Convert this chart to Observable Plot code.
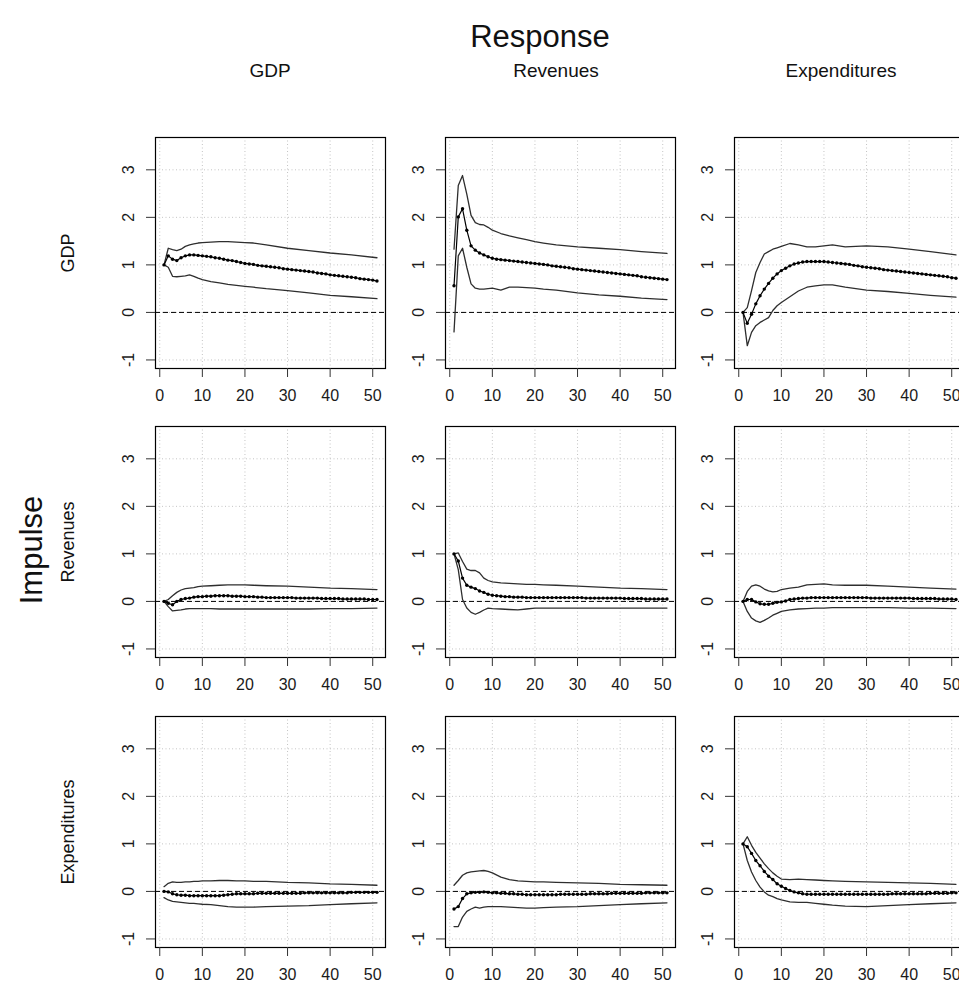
<!DOCTYPE html>
<html>
<head>
<meta charset="utf-8">
<script src="https://cdn.jsdelivr.net/npm/d3@7"></script>
<script src="https://cdn.jsdelivr.net/npm/@observablehq/plot@0.6"></script>
<style>
  html, body { margin: 0; padding: 0; background: #fff; }
  body { width: 959px; height: 983px; overflow: hidden; position: relative; font-family: "Liberation Sans", Arial, sans-serif; color: #111; }
  .lbl { position: absolute; white-space: nowrap; transform: translate(-50%, -50%); line-height: 1; }
  .rot { transform: translate(-50%, -50%) rotate(-90deg); }
  .panel { position: absolute; overflow: visible; }
  .panel svg { max-width: none !important; display: block; }
  .panel svg text { font-size: 16px !important; font-family: "Liberation Sans", Arial, sans-serif !important; fill: #1a1a1a; }
</style>
</head>
<body>
<div id="root"></div>
<script>
// ---- data ----
const names = ["GDP", "Revenues", "Expenditures"];
const xTicks = [0, 10, 20, 30, 40, 50];
const yTicks = [-1, 0, 1, 2, 3];
const h = [1,2,3,4,5,6,7,8,9,10,11,12,13,14,15,16,17,18,19,20,21,22,23,24,25,26,27,28,29,30,31,32,33,34,35,36,37,38,39,40,41,42,43,44,45,46,47,48,49,50,51];
const hb = [1,2,3,4,5,6,7,8,9,10,12,14,16,18,20,22,25,30,35,40,45,51];

// impulse GDP
const m11 = [1.00,1.19,1.12,1.09,1.15,1.19,1.21,1.21,1.20,1.19,1.18,1.17,1.15,1.14,1.12,1.10,1.09,1.07,1.05,1.03,1.02,1.01,0.99,0.98,0.97,0.96,0.95,0.94,0.92,0.91,0.90,0.89,0.88,0.87,0.86,0.85,0.83,0.82,0.81,0.79,0.78,0.77,0.76,0.75,0.74,0.73,0.71,0.70,0.69,0.68,0.66];
const u11 = [1.00,1.35,1.32,1.30,1.33,1.39,1.42,1.44,1.46,1.47,1.48,1.49,1.49,1.48,1.47,1.46,1.42,1.35,1.30,1.25,1.21,1.15];
const l11 = [1.00,0.95,0.76,0.75,0.76,0.77,0.79,0.76,0.72,0.69,0.65,0.62,0.59,0.57,0.55,0.53,0.50,0.46,0.41,0.36,0.33,0.29];

const m12 = [0.56,2.01,2.18,1.73,1.40,1.31,1.25,1.21,1.17,1.14,1.12,1.11,1.10,1.09,1.08,1.07,1.06,1.05,1.04,1.03,1.02,1.01,1.00,0.98,0.97,0.96,0.95,0.94,0.92,0.91,0.90,0.89,0.88,0.87,0.86,0.85,0.84,0.83,0.82,0.81,0.80,0.79,0.78,0.77,0.75,0.74,0.73,0.72,0.71,0.70,0.69];
const u12 = [1.33,2.67,2.88,2.49,2.04,1.89,1.85,1.84,1.79,1.73,1.66,1.61,1.57,1.53,1.49,1.46,1.42,1.38,1.35,1.32,1.28,1.24];
const l12 = [-0.41,1.19,1.35,0.95,0.60,0.51,0.49,0.49,0.50,0.51,0.47,0.53,0.53,0.52,0.51,0.49,0.47,0.41,0.37,0.34,0.30,0.27];

const m13 = [0.00,-0.23,-0.04,0.18,0.35,0.49,0.61,0.72,0.81,0.88,0.93,0.98,1.02,1.04,1.06,1.07,1.07,1.07,1.07,1.07,1.06,1.05,1.04,1.03,1.02,1.01,0.99,0.98,0.96,0.95,0.94,0.93,0.92,0.90,0.89,0.88,0.87,0.86,0.85,0.84,0.83,0.82,0.81,0.80,0.79,0.78,0.77,0.76,0.75,0.73,0.72];
const u13 = [0.00,0.10,0.46,0.84,1.05,1.23,1.28,1.33,1.36,1.39,1.45,1.42,1.38,1.38,1.40,1.42,1.38,1.40,1.38,1.33,1.28,1.21];
const l13 = [0.00,-0.70,-0.42,-0.28,-0.21,-0.16,-0.11,0.04,0.14,0.21,0.33,0.45,0.53,0.56,0.58,0.58,0.53,0.47,0.44,0.40,0.36,0.32];

// impulse Revenues
const m21 = [0.00,-0.04,-0.07,0.00,0.04,0.06,0.07,0.09,0.10,0.10,0.11,0.11,0.12,0.12,0.12,0.12,0.11,0.11,0.11,0.10,0.10,0.10,0.09,0.09,0.08,0.08,0.08,0.08,0.08,0.08,0.08,0.07,0.07,0.07,0.07,0.07,0.07,0.06,0.06,0.06,0.06,0.06,0.05,0.05,0.05,0.05,0.05,0.05,0.04,0.04,0.04];
const u21 = [0.00,0.04,0.12,0.19,0.24,0.27,0.28,0.29,0.31,0.32,0.33,0.34,0.35,0.35,0.35,0.34,0.33,0.32,0.30,0.28,0.27,0.25];
const l21 = [0.00,-0.11,-0.20,-0.19,-0.18,-0.16,-0.15,-0.15,-0.15,-0.15,-0.15,-0.16,-0.16,-0.16,-0.16,-0.16,-0.16,-0.16,-0.16,-0.15,-0.15,-0.14];

const m22 = [1.00,0.85,0.49,0.34,0.30,0.27,0.22,0.19,0.15,0.13,0.12,0.11,0.10,0.10,0.09,0.09,0.09,0.08,0.08,0.08,0.08,0.08,0.08,0.08,0.08,0.08,0.08,0.08,0.08,0.08,0.08,0.07,0.07,0.07,0.07,0.07,0.07,0.07,0.07,0.07,0.06,0.06,0.06,0.06,0.06,0.05,0.05,0.05,0.05,0.05,0.05];
const u22 = [1.00,1.02,0.84,0.68,0.65,0.65,0.60,0.49,0.44,0.41,0.39,0.38,0.37,0.36,0.36,0.35,0.34,0.32,0.30,0.28,0.27,0.25];
const l22 = [1.00,0.67,0.04,-0.14,-0.23,-0.27,-0.23,-0.18,-0.14,-0.15,-0.16,-0.17,-0.18,-0.16,-0.14,-0.14,-0.14,-0.14,-0.14,-0.14,-0.14,-0.14];

const m23 = [0.00,0.04,0.04,-0.01,-0.05,-0.06,-0.06,-0.04,-0.02,-0.01,0.01,0.04,0.05,0.06,0.07,0.07,0.08,0.08,0.08,0.08,0.08,0.08,0.08,0.08,0.08,0.08,0.08,0.08,0.08,0.08,0.07,0.07,0.07,0.07,0.07,0.07,0.07,0.07,0.07,0.07,0.06,0.06,0.06,0.06,0.06,0.06,0.05,0.05,0.05,0.05,0.04];
const u23 = [0.00,0.21,0.32,0.35,0.32,0.26,0.22,0.20,0.21,0.25,0.28,0.30,0.35,0.36,0.37,0.35,0.34,0.34,0.32,0.30,0.28,0.26];
const l23 = [0.00,-0.21,-0.35,-0.41,-0.44,-0.40,-0.35,-0.29,-0.25,-0.21,-0.18,-0.16,-0.15,-0.14,-0.14,-0.13,-0.13,-0.13,-0.13,-0.14,-0.14,-0.15];

// impulse Expenditures
const m31 = [0.00,-0.01,-0.05,-0.07,-0.08,-0.08,-0.09,-0.09,-0.09,-0.09,-0.09,-0.09,-0.09,-0.09,-0.08,-0.07,-0.06,-0.05,-0.05,-0.05,-0.05,-0.05,-0.04,-0.04,-0.04,-0.04,-0.04,-0.04,-0.04,-0.04,-0.04,-0.04,-0.04,-0.03,-0.03,-0.03,-0.03,-0.03,-0.03,-0.03,-0.03,-0.03,-0.03,-0.03,-0.02,-0.02,-0.02,-0.02,-0.02,-0.02,-0.02];
const u31 = [0.10,0.17,0.20,0.19,0.19,0.20,0.20,0.21,0.21,0.22,0.22,0.23,0.23,0.22,0.22,0.21,0.21,0.19,0.18,0.16,0.15,0.13];
const l31 = [-0.13,-0.18,-0.21,-0.22,-0.23,-0.24,-0.25,-0.25,-0.26,-0.27,-0.28,-0.30,-0.32,-0.33,-0.33,-0.33,-0.32,-0.31,-0.30,-0.28,-0.26,-0.24];

const m32 = [-0.37,-0.32,-0.15,-0.05,-0.03,-0.02,-0.02,-0.01,-0.02,-0.03,-0.03,-0.04,-0.04,-0.05,-0.05,-0.06,-0.06,-0.07,-0.07,-0.07,-0.07,-0.07,-0.07,-0.07,-0.07,-0.06,-0.06,-0.06,-0.06,-0.06,-0.06,-0.06,-0.05,-0.05,-0.05,-0.05,-0.05,-0.04,-0.04,-0.04,-0.04,-0.04,-0.04,-0.04,-0.04,-0.03,-0.03,-0.03,-0.03,-0.03,-0.03];
const u32 = [0.13,0.23,0.34,0.39,0.41,0.42,0.43,0.44,0.42,0.39,0.30,0.25,0.22,0.21,0.20,0.20,0.19,0.18,0.17,0.15,0.14,0.13];
const l32 = [-0.74,-0.74,-0.54,-0.42,-0.37,-0.33,-0.35,-0.33,-0.32,-0.32,-0.32,-0.33,-0.34,-0.35,-0.35,-0.34,-0.33,-0.32,-0.30,-0.28,-0.26,-0.24];

const m33 = [1.00,0.94,0.80,0.65,0.54,0.42,0.32,0.25,0.16,0.11,0.06,0.02,-0.01,-0.03,-0.05,-0.06,-0.06,-0.06,-0.06,-0.06,-0.06,-0.06,-0.06,-0.06,-0.06,-0.06,-0.06,-0.06,-0.06,-0.06,-0.06,-0.06,-0.06,-0.06,-0.06,-0.05,-0.05,-0.05,-0.05,-0.05,-0.05,-0.05,-0.05,-0.05,-0.04,-0.04,-0.04,-0.04,-0.04,-0.03,-0.03];
const u33 = [1.00,1.15,0.97,0.82,0.70,0.58,0.48,0.39,0.32,0.26,0.25,0.26,0.25,0.24,0.23,0.22,0.21,0.20,0.19,0.18,0.17,0.15];
const l33 = [1.00,0.65,0.41,0.23,0.09,-0.01,-0.08,-0.11,-0.15,-0.18,-0.22,-0.23,-0.23,-0.25,-0.27,-0.29,-0.31,-0.32,-0.30,-0.28,-0.26,-0.24];

const mids = [[m11, m12, m13], [m21, m22, m23], [m31, m32, m33]];
const ups  = [[u11, u12, u13], [u21, u22, u23], [u31, u32, u33]];
const los  = [[l11, l12, l13], [l21, l22, l23], [l31, l32, l33]];

// ---- layout ----
const FONT = '"Liberation Sans", Arial, sans-serif';
const PW = 230, PH = 231;
const ML = 45, MR = 5, MT = 5, MB = 40;
const frameLeft = [155, 445, 734];
const frameTop = [137, 426, 716];

const root = document.getElementById("root");

function addLabel(text, cx, cy, size, rotate) {
  const d = document.createElement("div");
  d.className = "lbl" + (rotate ? " rot" : "");
  d.textContent = text;
  d.style.left = cx + "px";
  d.style.top = cy + "px";
  d.style.fontSize = size + "px";
  root.appendChild(d);
}

function panel(mid, up, lo) {
  const md = h.map((x, i) => ({x, y: mid[i]}));
  const ud = hb.map((x, i) => ({x, y: up[i]}));
  const ld = hb.map((x, i) => ({x, y: lo[i]}));
  return Plot.plot({
    width: ML + PW + MR, height: MT + PH + MB,
    marginLeft: ML, marginRight: MR, marginTop: MT, marginBottom: MB,
    style: {fontFamily: FONT, fontSize: "16px", color: "#222", background: "transparent", overflow: "visible"},
    x: {domain: [-1, 53]},
    y: {domain: [-1.18, 3.68]},
    marks: [
      Plot.gridX(xTicks, {stroke: "#c4c4c4", strokeOpacity: 1, strokeDasharray: "1,2.5"}),
      Plot.gridY(yTicks, {stroke: "#c4c4c4", strokeOpacity: 1, strokeDasharray: "1,2.5"}),
      Plot.ruleY([0], {stroke: "#000", strokeWidth: 1, strokeDasharray: "5,3"}),
      Plot.line(ud, {x: "x", y: "y", stroke: "#2e2e2e", strokeWidth: 1.3}),
      Plot.line(ld, {x: "x", y: "y", stroke: "#2e2e2e", strokeWidth: 1.3}),
      Plot.line(md, {x: "x", y: "y", stroke: "#000", strokeWidth: 1.2}),
      Plot.dot(md, {x: "x", y: "y", r: 1.7, fill: "#000", stroke: null}),
      Plot.frame({stroke: "#000", strokeWidth: 1.2}),
      Plot.axisX(xTicks, {tickSize: 9, tickPadding: 12, label: null, stroke: "#333", tickFormat: d => String(d)}),
      Plot.axisY(yTicks, {tickSize: 9, label: null, stroke: "#333", tickFormat: () => ""}),
      Plot.text(yTicks, {y: d => d, text: d => String(d), frameAnchor: "left", dx: -27, rotate: -90,
                         textAnchor: "middle", lineAnchor: "middle", fill: "#1a1a1a"})
    ]
  });
}

for (let r = 0; r < 3; r++) {
  for (let c = 0; c < 3; c++) {
    const svg = panel(mids[r][c], ups[r][c], los[r][c]);
    svg.style.maxWidth = "none";
    const wrap = document.createElement("div");
    wrap.className = "panel";
    wrap.style.left = (frameLeft[c] - ML) + "px";
    wrap.style.top = (frameTop[r] - MT) + "px";
    wrap.style.width = (ML + PW + MR) + "px";
    wrap.appendChild(svg);
    root.appendChild(wrap);
  }
}

addLabel("Response", 540, 36, 31, false);
const colCenters = [270, 556, 841];
names.forEach((n, i) => addLabel(n, colCenters[i], 70, 19, false));
names.forEach((n, i) => addLabel(n, 68, frameTop[i] + PH / 2, 18, true));
addLabel("Impulse", 31, 550, 31, true);
</script>
</body>
</html>
